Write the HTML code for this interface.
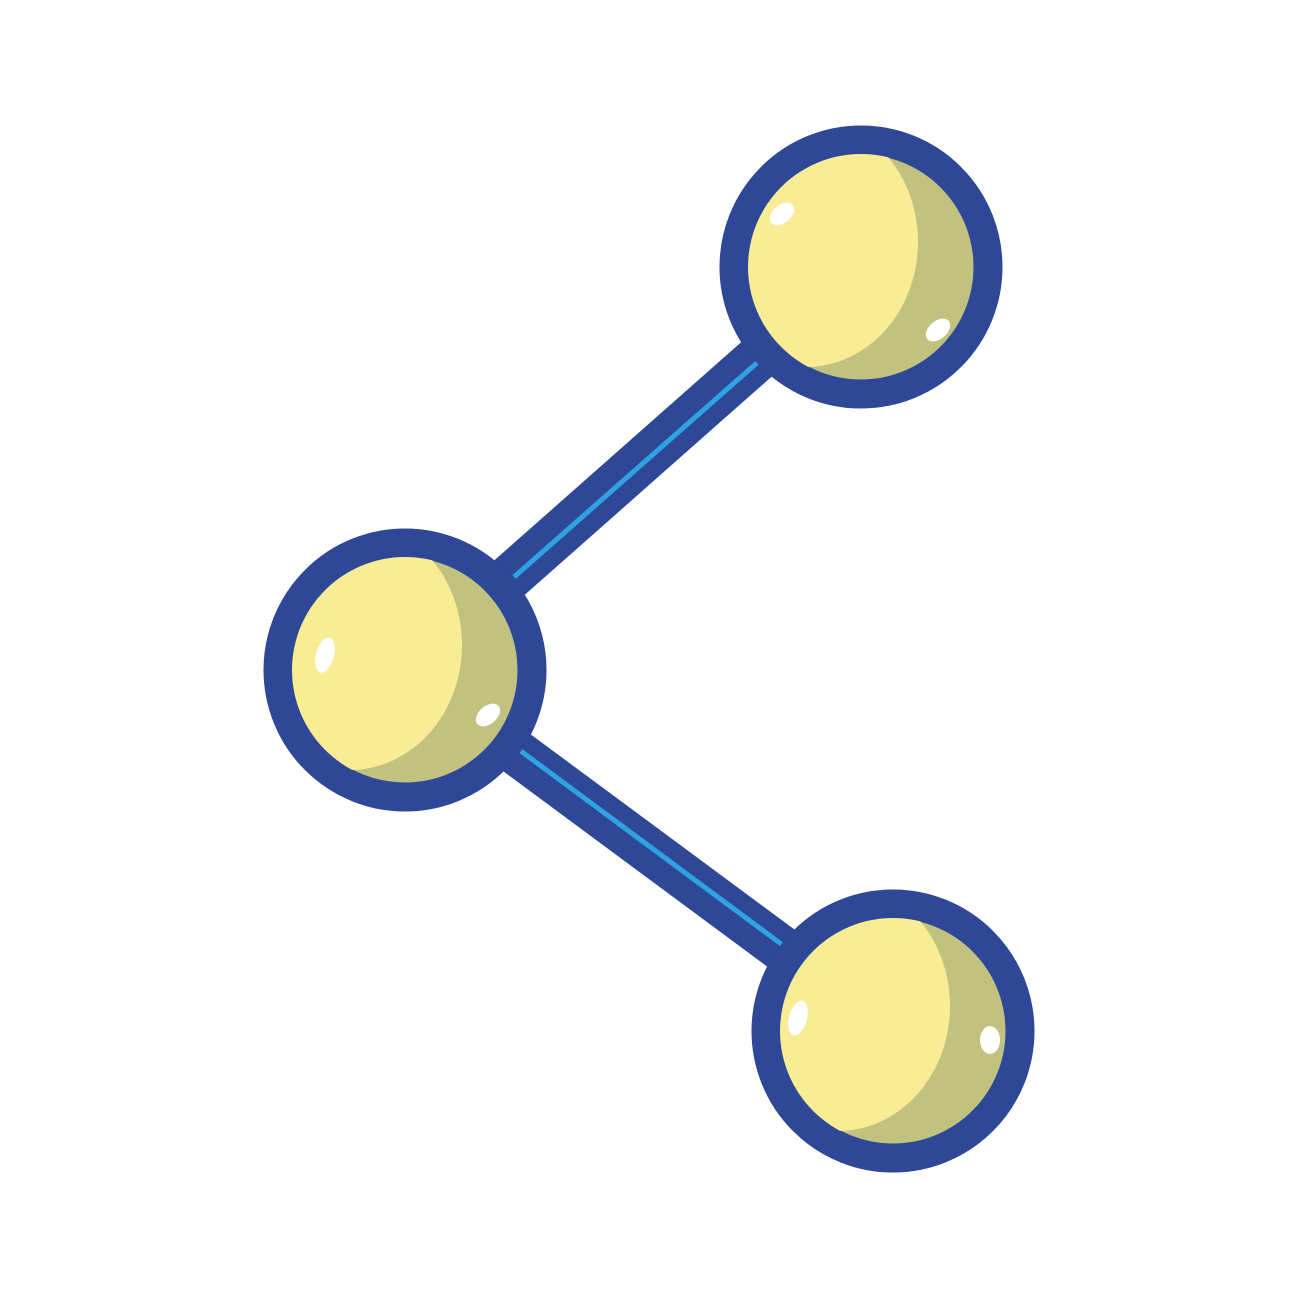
<!DOCTYPE html>
<html><head><meta charset="utf-8"><style>
html,body{margin:0;padding:0;background:#fff;}
svg{display:block;}
</style></head><body>
<svg width="1300" height="1300" viewBox="0 0 1300 1300" xmlns="http://www.w3.org/2000/svg">
<defs>
<clipPath id="c1"><circle cx="861" cy="267" r="113"/></clipPath>
<clipPath id="c2"><circle cx="405" cy="670" r="113"/></clipPath>
<clipPath id="c3"><circle cx="893" cy="1031" r="113"/></clipPath>
</defs>
<g>
<line x1="405" y1="670" x2="861" y2="267" stroke="#2e4797" stroke-width="46"/>
<line x1="512" y1="571" x2="765" y2="348" stroke="#2ea3e0" stroke-width="5" transform="translate(2,6)"/>
</g>
<g>
<line x1="405" y1="670" x2="893" y2="1031" stroke="#2e4797" stroke-width="46"/>
<line x1="512" y1="754" x2="790" y2="960" stroke="#2ea3e0" stroke-width="5" transform="translate(2,-8)"/>
</g>
<g>
<circle cx="861" cy="267" r="127" fill="#c1c27f" stroke="#2e4797" stroke-width="29"/>
<g clip-path="url(#c1)"><ellipse cx="806" cy="242" rx="112" ry="125" fill="#f8ec94"/></g>
<ellipse cx="782" cy="214" rx="14" ry="9" fill="#fff" transform="rotate(-40 782 214)"/>
<ellipse cx="938" cy="330" rx="14" ry="9" fill="#fff" transform="rotate(-40 938 330)"/>
</g>
<g>
<circle cx="405" cy="670" r="127" fill="#c1c27f" stroke="#2e4797" stroke-width="29"/>
<g clip-path="url(#c2)"><ellipse cx="350" cy="645" rx="112" ry="125" fill="#f8ec94"/></g>
<ellipse cx="325" cy="655" rx="9" ry="18" fill="#fff" transform="rotate(15 325 655)"/>
<ellipse cx="488" cy="715" rx="14" ry="9" fill="#fff" transform="rotate(-40 488 715)"/>
</g>
<g>
<circle cx="893" cy="1031" r="127" fill="#c1c27f" stroke="#2e4797" stroke-width="29"/>
<g clip-path="url(#c3)"><ellipse cx="838" cy="1006" rx="112" ry="125" fill="#f8ec94"/></g>
<ellipse cx="798" cy="1018" rx="9" ry="18" fill="#fff" transform="rotate(15 798 1018)"/>
<ellipse cx="990" cy="1040" rx="10" ry="14" fill="#fff"/>
</g>
</svg>
</body></html>
